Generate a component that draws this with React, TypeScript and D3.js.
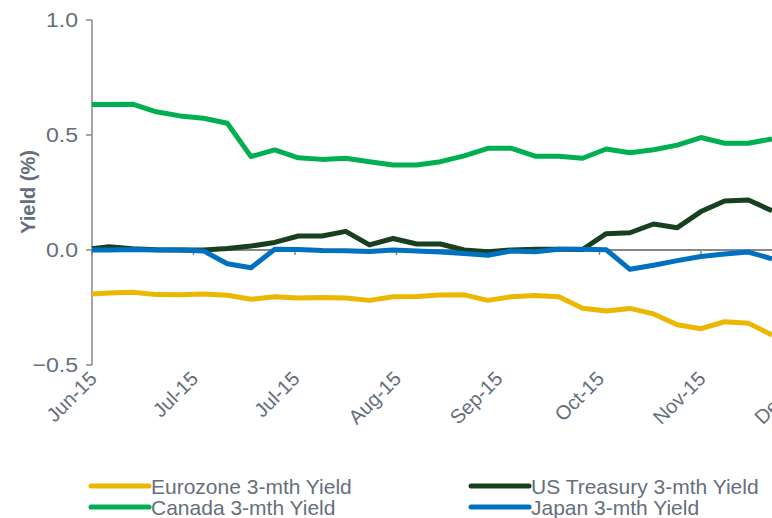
import React from "react";
import * as d3 from "d3";

const dates: string[] = [
  "2015-06-01", "2015-06-06", "2015-06-13", "2015-06-20", "2015-06-27",
  "2015-07-04", "2015-07-11", "2015-07-18", "2015-07-25", "2015-08-01",
  "2015-08-08", "2015-08-15", "2015-08-22", "2015-08-29", "2015-09-05",
  "2015-09-12", "2015-09-19", "2015-09-26", "2015-10-03", "2015-10-10",
  "2015-10-17", "2015-10-24", "2015-10-31", "2015-11-07", "2015-11-14",
  "2015-11-21", "2015-11-28", "2015-12-05", "2015-12-12", "2015-12-19",
];

const eurozone: number[] = [
  -0.191, -0.187, -0.184, -0.194, -0.195, -0.191, -0.197, -0.214, -0.203, -0.209,
  -0.207, -0.209, -0.219, -0.203, -0.202, -0.196, -0.195, -0.219, -0.203, -0.198,
  -0.203, -0.253, -0.265, -0.254, -0.278, -0.325, -0.342, -0.312, -0.318, -0.37,
];
const usTreasury: number[] = [
  0.005, 0.014, 0.005, 0.001, 0.0, 0.0, 0.007, 0.017, 0.033, 0.061,
  0.061, 0.081, 0.022, 0.05, 0.026, 0.026, 0.0, -0.008, 0.0, 0.003,
  0.003, 0.002, 0.071, 0.075, 0.113, 0.097, 0.167, 0.213, 0.217, 0.171,
];
const canada: number[] = [
  0.633, 0.633, 0.634, 0.601, 0.583, 0.573, 0.551, 0.406, 0.435, 0.401,
  0.394, 0.399, 0.384, 0.37, 0.37, 0.384, 0.409, 0.442, 0.442, 0.408,
  0.408, 0.399, 0.439, 0.423, 0.436, 0.456, 0.489, 0.464, 0.464, 0.483,
];
const japan: number[] = [
  0.0, 0.0, 0.002, 0.0, 0.0, -0.004, -0.06, -0.077, 0.003, 0.002,
  -0.002, -0.003, -0.007, 0.0, -0.004, -0.009, -0.015, -0.023, -0.004, -0.008,
  0.003, 0.003, 0.001, -0.084, -0.066, -0.046, -0.028, -0.017, -0.009, -0.038,
];

const xTickDates: string[] = [
  "2015-06-01", "2015-07-01", "2015-07-31", "2015-08-30",
  "2015-09-29", "2015-10-29", "2015-11-28", "2015-12-28",
];
const yTicks: number[] = [-0.5, 0, 0.5, 1.0];

const seriesNames: string[] = [
  "Eurozone 3-mth Yield",
  "US Treasury 3-mth Yield",
  "Canada 3-mth Yield",
  "Japan 3-mth Yield",
];
const seriesColors: string[] = ["#EBB700", "#17401F", "#00B050", "#0070C0"];

const W = 772;
const H = 518;

export default function App() {
  const parse = (s: string) => new Date(s + "T00:00:00Z");
  const x = d3
    .scaleUtc()
    .domain([parse("2015-06-01"), parse("2015-12-19")])
    .range([92, 772]);
  const y = d3.scaleLinear().domain([-0.5, 1.0]).range([365, 20]);
  const fmt = d3.utcFormat("%b-%y");

  const allSeries = [eurozone, usTreasury, canada, japan];
  const line = d3
    .line<number>()
    .x((_, i) => x(parse(dates[i])))
    .y((v) => y(v));

  const axisColor = "#878787";
  const textColor = "#656f7c";
  const font = "'Liberation Sans', Arial, sans-serif";

  const legendPos = [
    { lx: 91, ly: 486 },
    { lx: 471, ly: 486 },
    { lx: 91, ly: 507 },
    { lx: 471, ly: 507 },
  ];

  return (
    <svg
      width={W}
      height={H}
      style={{ position: "absolute", left: 0, top: 0, background: "#fff" }}
      fontFamily={font}
    >
      <rect x={0} y={0} width={W} height={H} fill="#fff" />
      {/* y axis */}
      <line x1={92} x2={92} y1={y(1.0)} y2={y(-0.5)} stroke={axisColor} strokeWidth={1.5} />
      {yTicks.map((t) => (
        <g key={t}>
          <line x1={86} x2={92} y1={y(t)} y2={y(t)} stroke={axisColor} strokeWidth={1.5} />
          <text
            transform={`translate(78,${y(t)}) scale(1.1,1)`}
            textAnchor="end"
            dominantBaseline="central"
            fontSize={21}
            fill={textColor}
          >
            {d3.format(".1f")(t)}
          </text>
        </g>
      ))}
      {/* zero line / x axis */}
      <line x1={92} x2={W} y1={y(0)} y2={y(0)} stroke={axisColor} strokeWidth={2} />
      {xTickDates.map((d) => {
        const tx = x(parse(d));
        return (
          <g key={d}>
            <line x1={tx} x2={tx} y1={y(0)} y2={y(0) + 5} stroke={axisColor} strokeWidth={1.5} />
            <text
              transform={`translate(${tx + 6},${380}) rotate(-45)`}
              textAnchor="end"
              fontSize={20}
              fill={textColor}
            >
              {fmt(parse(d))}
            </text>
          </g>
        );
      })}
      {/* y title */}
      <text
        transform={`translate(35,192) rotate(-90)`}
        textAnchor="middle"
        fontSize={20}
        fontWeight="bold"
        fill={textColor}
      >
        Yield (%)
      </text>
      {/* lines */}
      {allSeries.map((s, i) => (
        <path
          key={seriesNames[i]}
          d={line(s) || ""}
          fill="none"
          stroke={seriesColors[i]}
          strokeWidth={5}
          strokeLinejoin="round"
        />
      ))}
      {/* legend */}
      {seriesNames.map((n, i) => {
        const p = legendPos[i];
        return (
          <g key={n}>
            <line
              x1={p.lx}
              x2={p.lx + 58}
              y1={p.ly}
              y2={p.ly}
              stroke={seriesColors[i]}
              strokeWidth={5}
              strokeLinecap="round"
            />
            <text
              x={p.lx + 60}
              y={p.ly}
              dominantBaseline="central"
              fontSize={21}
              fill={textColor}
            >
              {n}
            </text>
          </g>
        );
      })}
    </svg>
  );
}
